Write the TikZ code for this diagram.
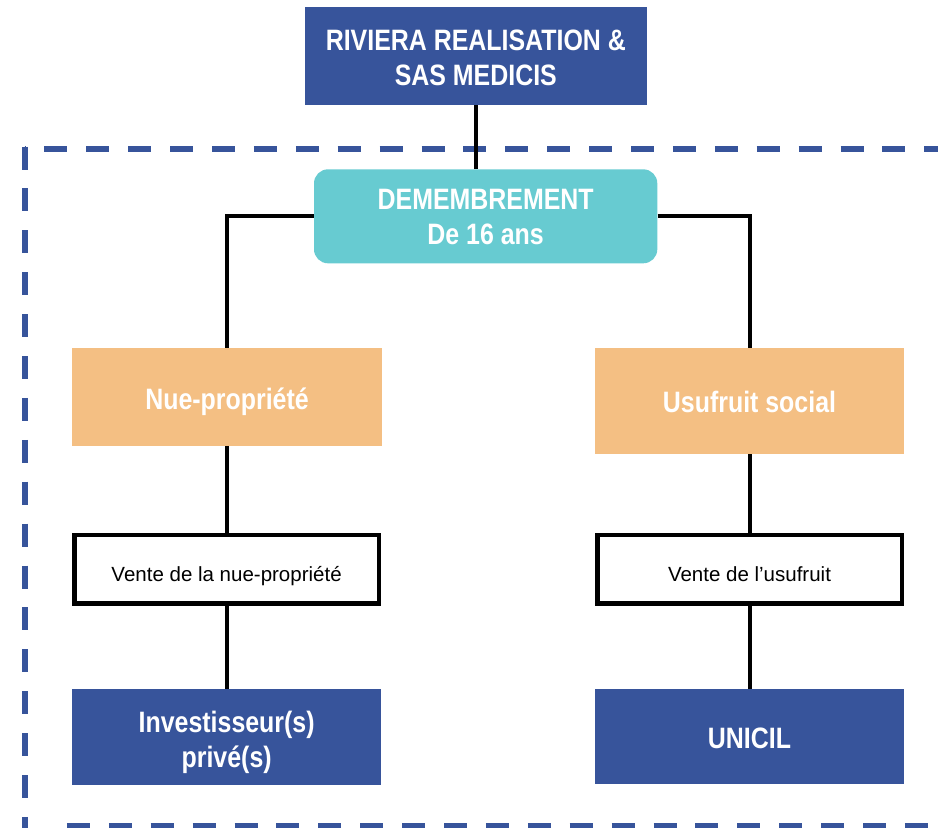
\documentclass[tikz,border=0pt]{standalone}
\usepackage{fontspec}
\setmainfont{Liberation Sans}
\newfontfamily\boldcond[FakeStretch=0.845]{Liberation Sans}
\newfontfamily\regfont{Liberation Sans}
\definecolor{dkblue}{RGB}{55,84,155}
\definecolor{teal}{RGB}{103,203,209}
\definecolor{peach}{RGB}{244,191,131}
\tikzset{
  hdr/.style={font=\boldcond\bfseries\fontsize{29.5}{35}\selectfont, text=white, inner sep=0pt, align=center},
  bluebox/.style={hdr, fill=dkblue, draw=none},
  tealbox/.style={hdr, fill=teal, draw=none, rounded corners=14pt},
  peachbox/.style={hdr, fill=peach, draw=none},
  salebox/.style={font=\regfont\fontsize{20.5}{24}\selectfont, text=black, fill=white, draw=black, line width=4.5pt, inner sep=0pt, text height=24pt, text depth=0.4pt},
  link/.style={draw=black, line width=4pt},
  frame/.style={draw=dkblue, line width=6pt, dash pattern=on 23pt off 18.9pt}
}
\begin{document}
\begin{tikzpicture}[x=1pt,y=-1pt]
\useasboundingbox (0,0) rectangle (938,828);
\clip (0,0) rectangle (938,828);
% dashed frame
\draw[frame, dash phase=22pt] (24.5,148.7) -- (950,148.7);
\draw[frame] (24.5,146.5) -- (24.5,840);
\draw[frame, dash phase=23pt] (48,826) -- (950,826);
% nodes
\node[bluebox, minimum width=341.7pt, minimum height=98.3pt] (top) at (475.85,55.85) {\rule{0pt}{25pt}RIVIERA REALISATION \&\\SAS MEDICIS};
\node[tealbox, minimum width=343.3pt, minimum height=94pt] (dem) at (485.65,216.3) {\rule{0pt}{22.5pt}DEMEMBREMENT\\De 16 ans};
\node[peachbox, minimum width=309.4pt, minimum height=97.4pt, text height=24pt, text depth=0pt] (nue) at (227,397) {Nue-propriété};
\node[peachbox, minimum width=309pt, minimum height=105.7pt, text height=23.5pt, text depth=0pt] (usu) at (749.5,401.15) {Usufruit social};
\node[salebox, minimum width=304.3pt, minimum height=68.5pt] (vnue) at (226.6,569.2) {Vente de la nue-propriété};
\node[salebox, minimum width=304.5pt, minimum height=68.5pt] (vusu) at (749.5,569.2) {Vente de l’usufruit};
\node[bluebox, minimum width=308.7pt, minimum height=96pt] (inv) at (226.65,737) {\rule{0pt}{32pt}Investisseur(s)\\privé(s)};
\node[bluebox, minimum width=309pt, minimum height=95pt, text height=23.5pt, text depth=0pt] (uni) at (749.5,736.5) {UNICIL};
% connectors
\draw[link] (top.south) -- (top.south |- dem.north);
\draw[link] (dem.west) -| (nue.north);
\draw[link] (dem.east) -| (usu.north);
\draw[link] (nue.south) -- (nue.south |- vnue.north);
\draw[link] (usu.south) -- (usu.south |- vusu.north);
\draw[link] (vnue.south) -- (vnue.south |- inv.north);
\draw[link] (vusu.south) -- (vusu.south |- uni.north);
\end{tikzpicture}
\end{document}
